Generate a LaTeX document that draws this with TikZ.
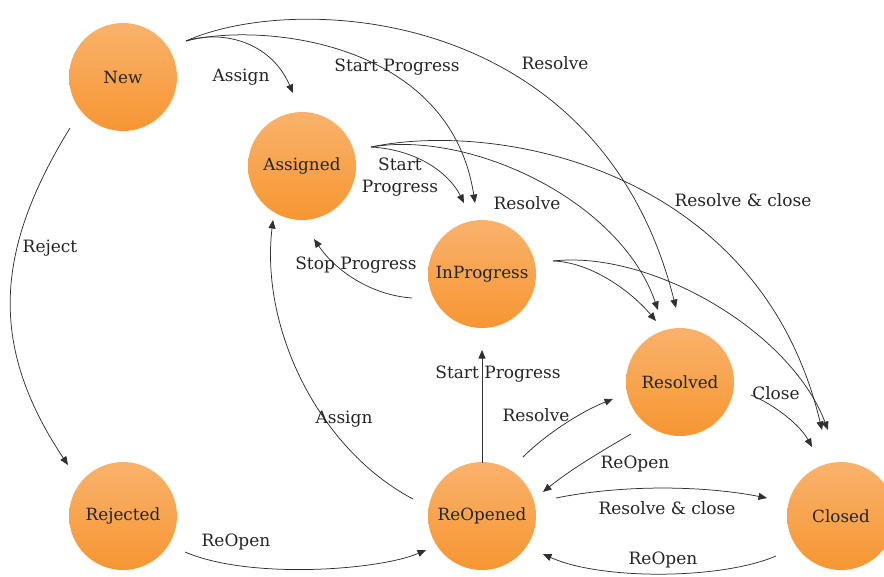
\documentclass[tikz,border=0pt]{standalone}
\usepackage{fontspec}
\setmainfont{DejaVu Serif}
\usetikzlibrary{arrows.meta}

\definecolor{edgegray}{HTML}{303030}
\definecolor{textgray}{HTML}{242424}
\definecolor{statetop}{RGB}{249,178,108}
\definecolor{statebottom}{RGB}{247,150,50}

\tikzset{
  state/.style={circle, minimum size=108pt, inner sep=0pt,
    top color=statetop, bottom color=statebottom, draw=none,
    text=textgray, font=\fontsize{16.8}{20}\selectfont},
  trans/.style={draw=edgegray, line width=0.75pt,
    -{Triangle[length=8.5pt,width=7pt]}},
  lbl/.style={text=textgray, font=\fontsize{17}{21.5}\selectfont,
    inner sep=0pt, align=center}
}

\begin{document}
\begin{tikzpicture}[x=1pt, y=-1pt]
  \useasboundingbox (0,0) rectangle (884,576);

  % states
  \node[state] (new)        at (123,77)  {New};
  \node[state] (assigned)   at (302,166) {Assigned};
  \node[state] (inprogress) at (482,274) {InProgress};
  \node[state] (resolved)   at (680,382) {Resolved};
  \node[state] (rejected)   at (123,516) {Rejected};
  \node[state] (reopened)   at (482,516) {ReOpened};
  \node[state] (closed)     at (841,516) {Closed};

  % connector end points
  \coordinate (new-out)     at (186,41);
  \coordinate (new-down)    at (70,128);
  \coordinate (asg-in-top)  at (293,93);
  \coordinate (asg-out)     at (371,147);
  \coordinate (asg-in-rt)   at (314,239);
  \coordinate (asg-in-bot)  at (273,220);
  \coordinate (inp-in-a)    at (464,203);
  \coordinate (inp-in-b)    at (475,203);
  \coordinate (inp-out)     at (553,261);
  \coordinate (inp-out-lt)  at (412,298);
  \coordinate (inp-in-bot)  at (482,350);
  \coordinate (res-in-a)    at (658,310);
  \coordinate (res-in-b)    at (676,308);
  \coordinate (res-in-c)    at (656,321);
  \coordinate (res-in-lt)   at (613,399);
  \coordinate (res-out-rt)  at (751,395);
  \coordinate (res-out-lt)  at (631,434);
  \coordinate (cls-in-a)    at (822,430);
  \coordinate (cls-in-b)    at (828,430);
  \coordinate (cls-in-c)    at (812,447);
  \coordinate (cls-in-lt)   at (767,498);
  \coordinate (cls-out)     at (776,556);
  \coordinate (rej-in)      at (68,465);
  \coordinate (rej-out)     at (185,552);
  \coordinate (reo-in-lt)   at (426,550);
  \coordinate (reo-out-lt)  at (413,499);
  \coordinate (reo-out-up)  at (482,463);
  \coordinate (reo-out-ru)  at (523,457);
  \coordinate (reo-in-ru)   at (543,492);
  \coordinate (reo-out-rt)  at (556,498);
  \coordinate (reo-in-rb)   at (543,554);

  % transitions from New
  \draw[trans] (new-out) .. controls (220,30) and (270,40) .. (asg-in-top);
  \draw[trans] (new-out) .. controls (260,22) and (450,40) .. (inp-in-b);
  \draw[trans] (new-out) .. controls (295,-8) and (600,5) .. (res-in-b);
  \draw[trans] (new-down) .. controls (-5,250) and (-12,345) .. (rej-in);

  % transitions from Assigned
  \draw[trans] (asg-out) .. controls (420,150) and (450,175) .. (inp-in-a);
  \draw[trans] (asg-out) .. controls (470,130) and (620,200) .. (res-in-a);
  \draw[trans] (asg-out) .. controls (500,120) and (760,170) .. (cls-in-a);

  % transitions from InProgress
  \draw[trans] (inp-out) .. controls (590,262) and (630,290) .. (res-in-c);
  \draw[trans] (inp-out) .. controls (650,250) and (790,330) .. (cls-in-b);
  \draw[trans] (inp-out-lt) .. controls (370,295) and (335,270) .. (asg-in-rt);

  % transitions from Resolved
  \draw[trans] (res-out-rt) .. controls (775,405) and (800,425) .. (cls-in-c);
  \draw[trans] (res-out-lt) .. controls (600,452) and (570,470) .. (reo-in-ru);

  % transitions from ReOpened
  \draw[trans] (reo-out-lt) .. controls (320,450) and (260,330) .. (asg-in-bot);
  \draw[trans] (reo-out-up) -- (inp-in-bot);
  \draw[trans] (reo-out-ru) .. controls (545,435) and (580,412) .. (res-in-lt);
  \draw[trans] (reo-out-rt) .. controls (620,485) and (700,485) .. (cls-in-lt);

  % transitions back to ReOpened
  \draw[trans] (cls-out) .. controls (720,580) and (600,580) .. (reo-in-rb);
  \draw[trans] (rej-out) .. controls (250,580) and (380,570) .. (reo-in-lt);

  % transition labels
  \node[lbl] (l-assign1)  at (241,77)  {Assign};
  \node[lbl] (l-start1)   at (397,67)  {Start Progress};
  \node[lbl] (l-resolve1) at (555,63)  {Resolve};
  \node[lbl] (l-start2)   at (400,177) {Start\\Progress};
  \node[lbl] (l-resolve2) at (527,203) {Resolve};
  \node[lbl] (l-rclose1)  at (743,200) {Resolve \& close};
  \node[lbl] (l-stop)     at (356,265) {Stop Progress};
  \node[lbl] (l-assign2)  at (344,419) {Assign};
  \node[lbl] (l-start3)   at (498,374) {Start Progress};
  \node[lbl] (l-resolve3) at (536,415) {Resolve};
  \node[lbl] (l-reopen1)  at (635,464) {ReOpen};
  \node[lbl] (l-close)    at (776,393) {Close};
  \node[lbl] (l-rclose2)  at (667,508) {Resolve \& close};
  \node[lbl] (l-reopen2)  at (663,560) {ReOpen};
  \node[lbl] (l-reopen3)  at (236,542) {ReOpen};
  \node[lbl] (l-reject)   at (50,248)  {Reject};
\end{tikzpicture}
\end{document}
